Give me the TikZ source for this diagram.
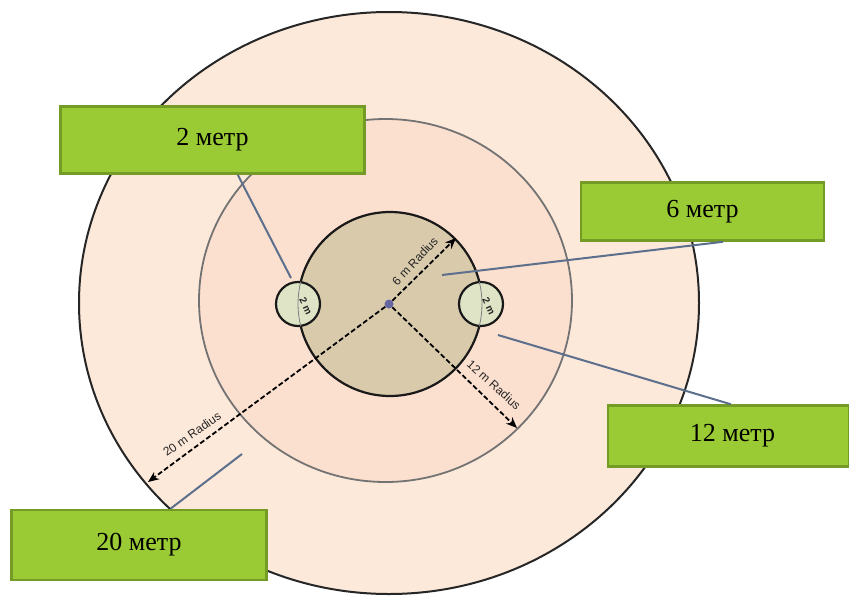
\documentclass[tikz,border=0pt]{standalone}
\usepackage{fontspec}
\usepackage{xcolor}
\usepackage{tikz}
\usetikzlibrary{arrows.meta}
\setmainfont{Liberation Serif}
\setsansfont{Liberation Sans}
\definecolor{outerzone}{HTML}{FDE9DA}
\definecolor{middlezone}{HTML}{FBDFCF}
\definecolor{innerzone}{HTML}{D9CAAC}
\definecolor{smallzone}{HTML}{DFE4C6}
\definecolor{boxfill}{HTML}{9ACB34}
\definecolor{boxline}{HTML}{739B25}
\definecolor{leader}{HTML}{5C6F8C}
\begin{document}
\begin{tikzpicture}[x=1pt, y=-1pt]
	\useasboundingbox (0, 0) rectangle (849, 595);
	\clip (0, 0) rectangle (849, 595);
	\draw[fill=outerzone, line width=2pt, draw=black!85] (389, 303) ellipse (310 and 291);
	\draw[fill=middlezone, line width=1.8pt, draw=black!55] (385.5, 300.5) ellipse (186.5 and 181.5);
	\draw[fill=innerzone, line width=2.2pt, draw=black!90] (390, 304) circle (92);
	\draw[fill=smallzone, line width=2.2pt, draw=black!90] (298, 304) circle (22);
	\draw[fill=smallzone, line width=2.2pt, draw=black!90] (481, 304) circle (22);
	\draw[line width=0.8pt, draw=black!50] (390, 304) ++(166:92) arc (166:194:92);
	\draw[line width=0.8pt, draw=black!50] (390, 304) ++(14:92) arc (14:-14:92);
	
	\begin{scope}[
		radiuslabel/.style={font=\sffamily\fontsize{12}{14}\selectfont, text=black!85, inner sep=0pt},
		zonebox/.style={draw=boxline, fill=boxfill, line width=2.6pt, font=\fontsize{26}{30}\selectfont, inner sep=0pt},
		radiusline/.style={-{Stealth[length=11pt, width=9pt]}, dash pattern=on 5pt off 2.5pt, line width=1.8pt}]
		\node[fill=black!60!blue!60, circle, minimum width=9pt, inner sep=0pt] (C) at (389, 304) {};
		
		\coordinate (R6) at (456, 238);
		\coordinate (R12) at (517, 428);
		\coordinate (R20) at (148, 482);
		\coordinate (E2) at (291, 278);
		\coordinate (E6) at (442, 275);
		\coordinate (E12) at (498, 335);
		\coordinate (E20) at (242, 454);
		
		\draw[radiusline] (C) -- (R6);
		\draw[radiusline] (C) -- (R12);
		\draw[radiusline] (C) -- (R20);
		
		\node[radiuslabel, rotate=47] (L6) at (415, 261) {6 m Radius};
		\node[radiuslabel, rotate=-42] (L12) at (494, 385) {12 m Radius};
		\node[radiuslabel, rotate=35] (L20) at (192, 434) {20 m Radius};
		\node[radiuslabel, rotate=-65, font=\sffamily\bfseries\fontsize{10}{12}\selectfont] (S1) at (306, 306) {2 m};
		\node[radiuslabel, rotate=-65, font=\sffamily\bfseries\fontsize{10}{12}\selectfont] (S2) at (489, 306) {2 m};
		
		\node[zonebox, minimum width=304pt, minimum height=67pt] (B2) at (212.5, 140) {\raisebox{4pt}{2 метр}};
		\node[zonebox, minimum width=243pt, minimum height=58pt] (B6) at (702.5, 211.5) {6 метр};
		\node[zonebox, minimum width=241pt, minimum height=61pt] (B12) at (728.5, 436) {\hspace*{8pt}12 метр};
		\node[zonebox, minimum width=255pt, minimum height=70pt] (B20) at (139, 545) {\raisebox{6pt}{20 метр}};
	\end{scope}
	
	\draw[-, line width=2pt, draw=leader] (B2.-54) -- (E2);
	\draw[-, line width=2pt, draw=leader] (B6.-56) -- (E6);
	\draw[-, line width=2pt, draw=leader] (B12.86) -- (E12);
	\draw[-, line width=2pt, draw=leader] (B20.49) -- (E20);
\end{tikzpicture}
\end{document}
